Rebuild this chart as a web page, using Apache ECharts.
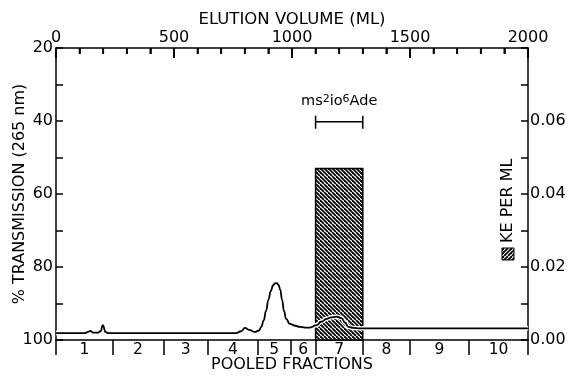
<!DOCTYPE html>
<html>
<head>
<meta charset="utf-8">
<script src="https://cdn.jsdelivr.net/npm/echarts/dist/echarts.min.js"></script>
<style>
  html, body { margin: 0; padding: 0; background: #fff; }
  #chart { width: 569px; height: 377px; }
</style>
</head>
<body>
<div id="chart"></div>
<script>
// ---- data ----
const elutionMl = [0, 123, 136, 146, 157, 178, 189, 198, 210, 220, 763, 784, 801, 818, 843, 860, 870, 880, 890, 900, 910, 920, 928, 935, 943, 950, 958, 966, 975, 991, 1013, 1034, 1055, 1076, 1105, 1123, 1147, 1165, 1189, 1210, 1224, 1239, 1260, 1288, 2000];
const transmission = [98.1, 98.1, 97.8, 97.5, 98.0, 98.0, 97.6, 95.9, 97.8, 98.1, 98.1, 97.6, 96.7, 97.2, 97.8, 97.4, 96.4, 94.6, 92.0, 89.0, 86.6, 85.0, 84.5, 84.4, 84.9, 86.2, 89.0, 92.0, 94.2, 95.6, 96.1, 96.4, 96.6, 96.6, 95.9, 95.0, 94.2, 93.8, 93.6, 94.0, 95.2, 96.4, 96.7, 96.8, 96.8];

const fractionBounds = [0, 240, 455, 645, 855, 995, 1100, 1300, 1500, 1750, 2000];
const fractionLabels = ['1', '2', '3', '4', '5', '6', '7', '8', '9', '10'];

const keBar = [1100, 1300, 0.047];          // start ml, end ml, KE per ml
const bracket = [1100, 1300, 40.2];         // start ml, end ml, % transmission level
const bracketLabel = 'ms{sup|2}io{sup|6}Ade';

const topTicks = { min: 0, max: 2000, interval: 500, minorInterval: 100 };
const leftTicks = { min: 20, max: 100, interval: 20 };
const rightTicks = { min: 0, max: 0.08, interval: 0.02 };

// ---- helpers ----
const FONT = 'DejaVu Sans';
const fractionMids = fractionLabels.map((_, i) => (fractionBounds[i] + fractionBounds[i + 1]) / 2);
const topTickValues = [];
for (let v = topTicks.min; v <= topTicks.max; v += topTicks.minorInterval) {
  topTickValues.push({ value: [v, leftTicks.min], major: v % topTicks.interval === 0 });
}

function makeHatch(dir) {
  const s = 8;
  const c = document.createElement('canvas');
  c.width = s; c.height = s;
  const g = c.getContext('2d');
  g.fillStyle = '#fff';
  g.fillRect(0, 0, s, s);
  g.strokeStyle = '#000';
  g.lineWidth = 1.8;
  for (let o = -s; o <= 2 * s; o += 4) {
    g.beginPath();
    if (dir === 'back') { g.moveTo(o, 0); g.lineTo(o + s, s); }
    else { g.moveTo(o, s); g.lineTo(o + s, 0); }
    g.stroke();
  }
  return c;
}
const hatchBack = makeHatch('back');
const hatchFwd = makeHatch('fwd');

const chart = echarts.init(document.getElementById('chart'), null, { renderer: 'canvas' });

function axisLine() { return { show: true, onZero: false, lineStyle: { color: '#000', width: 1.5 } }; }
function tickStyle() { return { color: '#000', width: 1.5 }; }
const labelStyle = { color: '#000', fontFamily: FONT, fontSize: 16 };

const option = {
  backgroundColor: '#fff',
  animation: false,
  textStyle: { fontFamily: FONT, color: '#000' },
  grid: { left: 56, right: 41, top: 48, bottom: 37, containLabel: false, outerBoundsMode: 'none' },
  xAxis: [
    {
      type: 'value', position: 'top',
      min: topTicks.min, max: topTicks.max, interval: topTicks.interval,
      name: 'ELUTION VOLUME (ML)', nameLocation: 'middle', nameGap: 20, nameMoveOverlap: false,
      nameTextStyle: { color: '#000', fontFamily: FONT, fontSize: 16.5 },
      axisLine: axisLine(),
      axisTick: { show: true, inside: true, length: 10, lineStyle: tickStyle() },
      minorTick: { show: true, splitNumber: 5, length: 6, lineStyle: tickStyle() },
      axisLabel: Object.assign({ margin: 2, formatter: v => String(v) }, labelStyle),
      splitLine: { show: false }
    },
    {
      type: 'value', position: 'bottom',
      min: topTicks.min, max: topTicks.max,
      name: 'POOLED FRACTIONS', nameLocation: 'middle', nameGap: 16.5, nameMoveOverlap: false,
      nameTextStyle: { color: '#000', fontFamily: FONT, fontSize: 16 },
      axisLine: axisLine(),
      axisTick: { show: true, inside: false, length: 15, customValues: fractionBounds, lineStyle: tickStyle() },
      axisLabel: Object.assign({
        margin: 2,
        customValues: fractionMids,
        formatter: function (v) {
          const i = fractionMids.findIndex(m => Math.abs(m - v) < 0.5);
          return i >= 0 ? fractionLabels[i] : '';
        }
      }, labelStyle, { fontSize: 15.5 }),
      splitLine: { show: false }
    }
  ],
  yAxis: [
    {
      type: 'value', position: 'left', inverse: true,
      min: leftTicks.min, max: leftTicks.max, interval: leftTicks.interval,
      name: '% TRANSMISSION (265 nm)', nameLocation: 'middle', nameGap: 28, nameMoveOverlap: false,
      nameTextStyle: { color: '#000', fontFamily: FONT, fontSize: 16 },
      axisLine: axisLine(),
      axisTick: { show: true, inside: true, length: 7, lineStyle: tickStyle() },
      minorTick: { show: true, splitNumber: 2, length: 7, lineStyle: tickStyle() },
      axisLabel: Object.assign({ margin: 3 }, labelStyle),
      splitLine: { show: false }
    },
    {
      type: 'value', position: 'right',
      min: rightTicks.min, max: rightTicks.max, interval: rightTicks.interval,
      axisLine: axisLine(),
      axisTick: { show: true, inside: true, length: 7, lineStyle: tickStyle() },
      minorTick: { show: true, splitNumber: 2, length: 7, lineStyle: tickStyle() },
      axisLabel: Object.assign({
        margin: 2,
        formatter: function (v) { return v >= rightTicks.max - 1e-9 ? '' : v.toFixed(2); }
      }, labelStyle),
      splitLine: { show: false }
    }
  ],
  graphic: [
    {
      type: 'rect', z: 20,
      shape: { x: 502, y: 248, width: 12, height: 12 },
      style: { fill: { image: hatchFwd, repeat: 'repeat' }, stroke: '#000', lineWidth: 1 }
    },
    {
      type: 'text', z: 20,
      x: 508, y: 243, rotation: Math.PI / 2,
      style: { text: 'KE PER ML', fill: '#000', font: '16px "DejaVu Sans"', align: 'left', verticalAlign: 'middle' }
    }
  ],
  series: [
    {
      type: 'custom', name: 'KE per ml', xAxisIndex: 0, yAxisIndex: 1, z: 2,
      data: [keBar],
      renderItem: function (params, api) {
        const p0 = api.coord([api.value(0), api.value(2)]);
        const p1 = api.coord([api.value(1), 0]);
        return {
          type: 'rect',
          shape: { x: p0[0], y: p0[1], width: p1[0] - p0[0], height: p1[1] - p0[1] },
          style: { fill: { image: hatchBack, repeat: 'repeat' }, stroke: '#000', lineWidth: 1.5 }
        };
      }
    },
    {
      type: 'line', name: 'halo', xAxisIndex: 0, yAxisIndex: 0, z: 3,
      data: elutionMl.map((x, i) => [x, transmission[i]]),
      showSymbol: false, smooth: 0.5, smoothMonotone: 'x',
      lineStyle: { color: '#fff', width: 4.5 }, silent: true
    },
    {
      type: 'line', name: 'transmission', xAxisIndex: 0, yAxisIndex: 0, z: 4,
      data: elutionMl.map((x, i) => [x, transmission[i]]),
      showSymbol: false, smooth: 0.5, smoothMonotone: 'x',
      lineStyle: { color: '#000', width: 1.8 }
    },
    {
      type: 'custom', name: 'bracket', xAxisIndex: 0, yAxisIndex: 0, z: 5,
      data: [bracket],
      renderItem: function (params, api) {
        const a = api.coord([api.value(0), api.value(2)]);
        const b = api.coord([api.value(1), api.value(2)]);
        const ls = { stroke: '#000', lineWidth: 1.5 };
        return {
          type: 'group',
          children: [
            { type: 'line', shape: { x1: a[0], y1: a[1], x2: b[0], y2: b[1] }, style: ls },
            { type: 'line', shape: { x1: a[0], y1: a[1] - 6, x2: a[0], y2: a[1] + 7 }, style: ls },
            { type: 'line', shape: { x1: b[0], y1: b[1] - 6, x2: b[0], y2: b[1] + 7 }, style: ls },
            {
              type: 'text', x: (a[0] + b[0]) / 2, y: a[1] - 12,
              style: {
                text: bracketLabel, fill: '#000', align: 'center', verticalAlign: 'bottom',
                font: '14.5px "DejaVu Sans"',
                rich: { sup: { fontSize: 11, fontFamily: FONT, verticalAlign: 'top', padding: [0, 0, 5, 0] } }
              }
            }
          ]
        };
      }
    },
    {
      // tick marks hanging from the elution-volume (top) axis
      type: 'custom', name: 'top ticks', xAxisIndex: 0, yAxisIndex: 0, z: 6, silent: true, clip: false,
      data: topTickValues,
      renderItem: function (params, api) {
        const p = api.coord([api.value(0), api.value(1)]);
        const len = topTickValues[params.dataIndex].major ? 10 : 6;
        return {
          type: 'rect',
          shape: { x: p[0] - 0.9, y: p[1], width: 1.8, height: len },
          style: { fill: '#000' }
        };
      }
    }
  ]
};

chart.setOption(option);
</script>
</body>
</html>
